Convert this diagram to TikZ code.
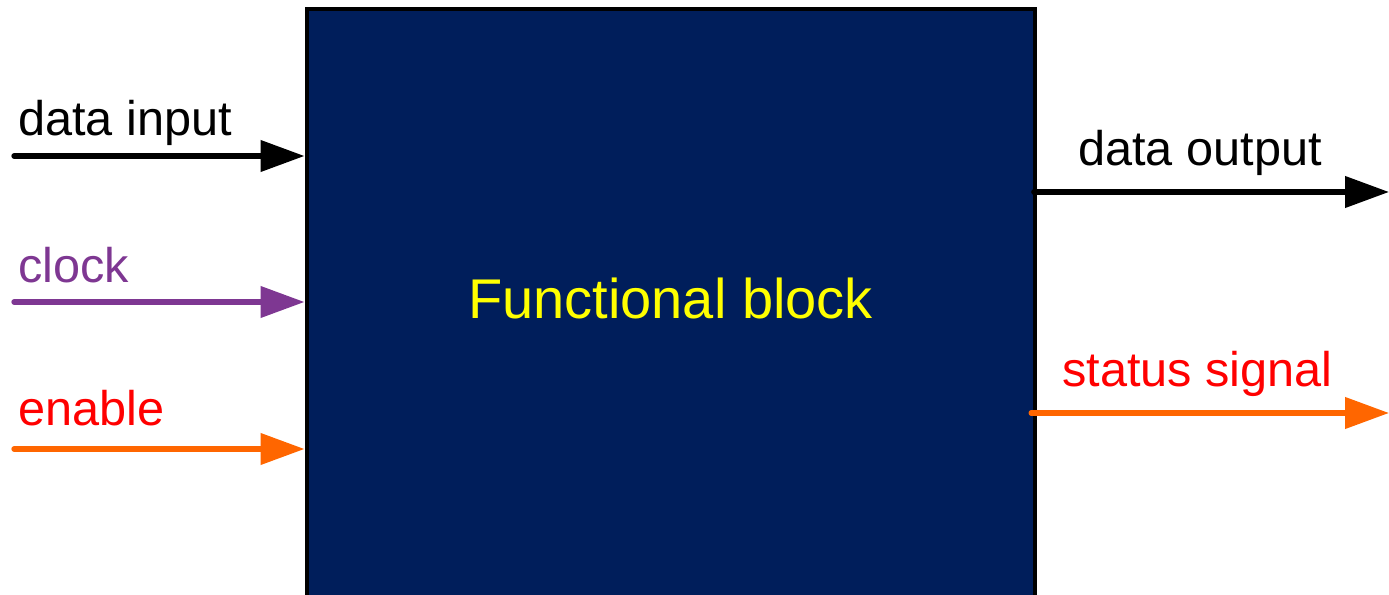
\documentclass[tikz,border=0pt]{standalone}
\usepackage{fontspec}
\setmainfont{Liberation Sans}
\usetikzlibrary{arrows.meta}
\definecolor{navy}{HTML}{001E5B}
\definecolor{clkpurple}{HTML}{7E3792}
\definecolor{sigorange}{HTML}{FF6600}
\definecolor{sigred}{HTML}{FF0000}
\definecolor{titleyellow}{HTML}{FFFF00}
\begin{document}
\begin{tikzpicture}[x=0.75pt,y=-0.75pt,
  block/.style={draw=black, line width=3pt, fill=navy, anchor=north west,
    minimum width=546pt, minimum height=444pt, inner sep=0pt},
  sigarrow/.style={line width=4pt, line cap=round,
    -{Triangle[length=33pt,width=23pt]}},
  lbl/.style={anchor=base west, inner sep=0pt, font=\fontsize{36.5pt}{40pt}\selectfont},
  ttl/.style={anchor=base, inner sep=0pt, text=titleyellow, font=\fontsize{42pt}{46pt}\selectfont}]
\useasboundingbox (0,0) rectangle (1389,595);
\node[block] (fb) at (304.5,7.5) {};
\node[ttl] (title) at (670.5,319) {Functional block};
% inputs
\coordinate (din) at (14,156);
\coordinate (clk) at (14,302);
\coordinate (en) at (14,449);
\draw[sigarrow, black] (din) -- (din -| fb.west);
\draw[sigarrow, clkpurple] (clk) -- (clk -| fb.west);
\draw[sigarrow, sigorange] (en) -- (en -| fb.west);
\node[lbl, text=black] (ldin) at (18,136) {data input};
\node[lbl, text=clkpurple] (lclk) at (18,283) {clock};
\node[lbl, text=sigred] (len) at (18,425) {enable};
% outputs
\coordinate (dout) at (1389,192);
\coordinate (stat) at (1389,413);
\draw[sigarrow, black] ([xshift=-2pt]dout -| fb.east) -- (dout);
\draw[sigarrow, sigorange] ([xshift=-4pt]stat -| fb.east) -- (stat);
\node[lbl, text=black] (ldout) at (1078,166) {data output};
\node[lbl, text=sigred] (lstat) at (1062,387) {status signal};
\end{tikzpicture}
\end{document}
